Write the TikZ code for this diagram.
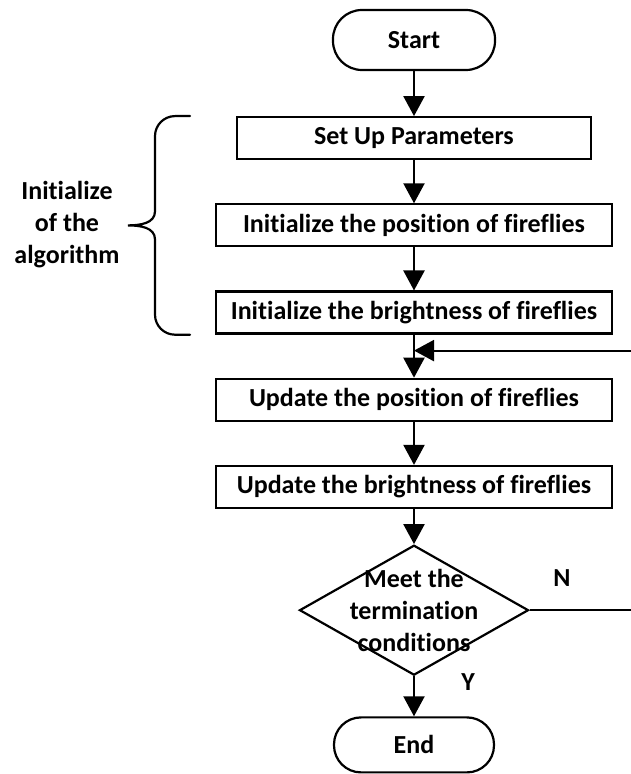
\documentclass[tikz,border=0pt]{standalone}
\usepackage{fontspec}
\setmainfont{Carlito}[Ligatures=NoCommon]
\usetikzlibrary{arrows.meta, positioning, shapes.geometric, calc}
\tikzset{
  every picture/.style={font=\fontsize{26}{32}\selectfont\bfseries, line width=2.2pt, x=1pt, y=1pt},
  terminal/.style={draw, rounded corners=#1, minimum width=162pt, inner sep=0pt},
  process/.style={draw, fill=white, minimum width=396pt, minimum height=42pt, inner sep=0pt},
  decision/.style={draw, diamond, fill=white, minimum width=229pt, minimum height=130pt, inner sep=0pt},
  arrow/.style={-{Triangle[length=20pt, width=21pt]}, line width=2.2pt},
  sidenote/.style={align=center},
  brace/.style={line width=2.2pt, line cap=round},
}

\begin{document}
\begin{tikzpicture}[node distance=43pt]
  \useasboundingbox (0,0) rectangle (631,774);
  \clip (0,0) rectangle (631,774);
  \node[terminal=29pt, minimum height=60pt] (start) at (414,734) {Start};
  \node[process, minimum width=354pt, below=45pt of start] (setup) {Set Up Parameters};
  \node[process, below=of setup] (initpos) {Initialize the position of fireflies};
  \node[process, below=of initpos] (initbright) {Initialize the brightness of fireflies};
  \node[process, below=of initbright] (updpos) {Update the position of fireflies};
  \node[process, below=of updpos] (updbright) {Update the brightness of fireflies};
  \node[decision, below=35pt of updbright] (cond) {};
  \node[sidenote] (condtext) at (cond.center) {Meet the\\termination\\conditions};
  \node[terminal=27pt, minimum width=160pt, minimum height=55pt, below=40pt of cond] (end) {End};
  \draw[arrow] (start) -- (setup);
  \draw[arrow] (setup) -- (initpos);
  \draw[arrow] (initpos) -- (initbright);
  \draw[arrow] (initbright) -- (updpos);
  \draw[arrow] (updpos) -- (updbright);
  \draw[arrow] (updbright) -- (cond);
  \draw[arrow] (cond) -- (end);
  % loop back when not finished
  \coordinate (merge) at ($(initbright.south)!0.37!(updpos.north)$);
  \draw[arrow] (cond.east) -- ++(120,0) |- (merge);
  \node (no) at (562,196) {N};
  \node (yes) at (468,92) {Y};
  % brace on the left
  \coordinate (bracex) at (190,0);
  \coordinate (btop) at (setup.north -| bracex);
  \coordinate (bbot) at (initbright.south -| bracex);
  \coordinate (bmid) at ($(btop)!0.5!(bbot)$);
  \draw[brace] (btop) -- ++(-15,0) arc[start angle=90, end angle=180, radius=20]
    -- ($(bmid)+(-35,14)$) .. controls +(0,-12) and +(12,0) .. ($(bmid)+(-62,0)$)
    .. controls +(12,0) and +(0,12) .. ($(bmid)+(-35,-14)$)
    -- ($(bbot)+(-35,20)$) arc[start angle=180, end angle=270, radius=20] -- (bbot);
  \node[sidenote] (initnote) at (67,549) {Initialize\\of the\\algorithm};
\end{tikzpicture}
\end{document}
